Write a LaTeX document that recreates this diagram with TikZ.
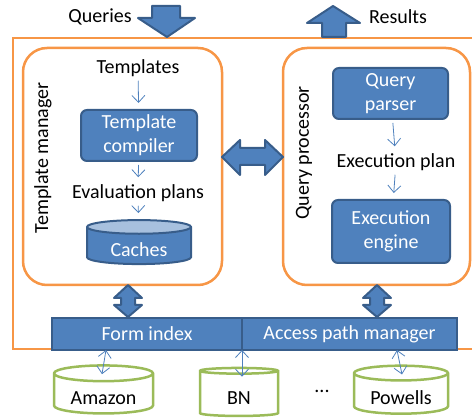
\documentclass[tikz,border=0pt]{standalone}
\usepackage{fontspec}
\setmainfont{Carlito}
\usetikzlibrary{shapes.geometric,arrows.meta}
\definecolor{accblue}{HTML}{4F81BD}
\definecolor{accedge}{HTML}{385D8A}
\definecolor{accorange}{HTML}{F79646}
\definecolor{accgreen}{HTML}{9BBB59}
\definecolor{acclight}{HTML}{A7C0DE}
\tikzset{
  panel/.style={draw=accorange, line width=2.5pt, rounded corners=24pt, inner sep=0pt},
  procbox/.style={draw=accedge, fill=accblue, line width=2pt, rounded corners=6pt,
    text=white, align=center, inner sep=0pt},
  barbox/.style={draw=accedge, fill=accblue, line width=2pt, text=white, inner sep=0pt},
  label/.style={inner sep=1pt},
  flow/.style={accblue, line width=0.8pt, shorten <=3pt, shorten >=6pt,
    -{Straight Barb[length=7pt,width=13pt]}},
  link/.style={accblue, line width=0.8pt,
    {Straight Barb[length=7pt,width=13pt]}-{Straight Barb[length=7pt,width=13pt]}},
  blockarrow/.style={fill=accblue, draw=accedge, line width=2pt, line join=round},
  store/.style={cylinder, shape border rotate=90, aspect=0.24, draw=accedge,
    line width=2pt, cylinder uses custom fill, cylinder body fill=accblue,
    cylinder end fill=acclight, text=white, inner sep=0pt},
  source/.style={cylinder, shape border rotate=90, aspect=0.24, draw=accgreen,
    line width=2.5pt, fill=white, inner sep=0pt},
}
% text set a little lower inside a cylinder body, keeping its box size
\newcommand{\lowtext}[1]{\raisebox{-4pt}[\height][\depth]{#1}}
\begin{document}
\begin{tikzpicture}[x=1pt, y=-1pt, font=\fontsize{20}{24}\selectfont]
\clip (0,0) rectangle (472,419);

% system boundary (runs off the right edge)
\draw[accorange, line width=2.5pt] (13,38) rectangle (490,349);

% incoming queries and outgoing results
\draw[blockarrow] (152,6) -- (180,6) -- (180,18) -- (195,18) -- (167,37)
  -- (138,18) -- (152,18) -- cycle;
\draw[blockarrow] (333,6) -- (360,23) -- (346,23) -- (346,37) -- (322,37)
  -- (322,23) -- (307,23) -- cycle;
\node[label] (queries) at (100,17) {Queries};
\node[label] (results) at (398,17) {Results};

% the two managers
\node[panel, minimum width=199pt, minimum height=237pt] (tm) at (122.5,166.5) {};
\node[panel, minimum width=187pt, minimum height=237pt] (qpr) at (376.5,166.5) {};
\node[label, rotate=90] (tmlabel) at (43,158) {Template manager};
\node[label, rotate=90] (qprlabel) at (304,153) {Query processor};

% template manager internals
\node[label] (templ) at (138,68) {Templates};
\node[procbox, minimum width=116pt, minimum height=51pt] (tc) at (139,135.5)
  {Template\\compiler};
\node[label] (evplans) at (138,193) {Evaluation plans};
\node[store, minimum width=104pt, minimum height=44pt] (caches) at (139,246)
  {\lowtext{Caches}};

% query processor internals
\node[procbox, minimum width=115pt, minimum height=51pt] (qparse) at (390.5,93.5)
  {Query\\parser};
\node[label] (explan) at (396,162) {Execution plan};
\node[procbox, minimum width=118pt, minimum height=63pt] (engine) at (391,231.5)
  {Execution\\engine};

\draw[flow] (templ) -- (tc);
\draw[flow] (tc) -- (evplans);
\draw[flow] (evplans) -- (caches);
\draw[flow] (qparse) -- (explan);
\draw[flow] (explan) -- (engine);

% exchange between the managers
\draw[blockarrow] (222,157) -- (240,140) -- (240,148) -- (265,148) -- (265,140)
  -- (283,157) -- (265,175) -- (265,165) -- (240,165) -- (240,175) -- cycle;

% index layer
\node[barbox, minimum width=190pt, minimum height=32pt] (findex) at (147,334) {Form index};
\node[barbox, minimum width=215pt, minimum height=32pt] (apm) at (349.5,334)
  {Access path manager};

% links from the managers down to the index layer
\draw[blockarrow] (128,285) -- (142,298) -- (135,298) -- (135,305) -- (142,305)
  -- (128,317) -- (114,305) -- (121,305) -- (121,298) -- (114,298) -- cycle;
\draw[blockarrow] (377,285) -- (391,298) -- (384,298) -- (384,305) -- (391,305)
  -- (377,317) -- (363,305) -- (370,305) -- (370,298) -- (363,298) -- cycle;

% web sources
\node[source, minimum width=99pt, minimum height=48pt] (amazon) at (103.5,394)
  {\lowtext{Amazon}};
\node[source, minimum width=78pt, minimum height=48pt] (bn) at (239,394)
  {\lowtext{BN}};
\node[source, minimum width=94pt, minimum height=48pt] (powells) at (401,394)
  {\lowtext{Powells}};
\node[label] (dots) at (322,391) {...};

\coordinate (amztop) at (106,350);
\coordinate (bntop) at (242,350);
\coordinate (pwltop) at (397,350);
\draw[link] (amztop) -- ([xshift=-1.5pt,yshift=-10pt]amazon.top);
\draw[link] (bntop) -- ([xshift=3pt,yshift=-10pt]bn.top);
\draw[link] (pwltop) -- ([xshift=1pt,yshift=-10pt]powells.top);
\end{tikzpicture}
\end{document}
